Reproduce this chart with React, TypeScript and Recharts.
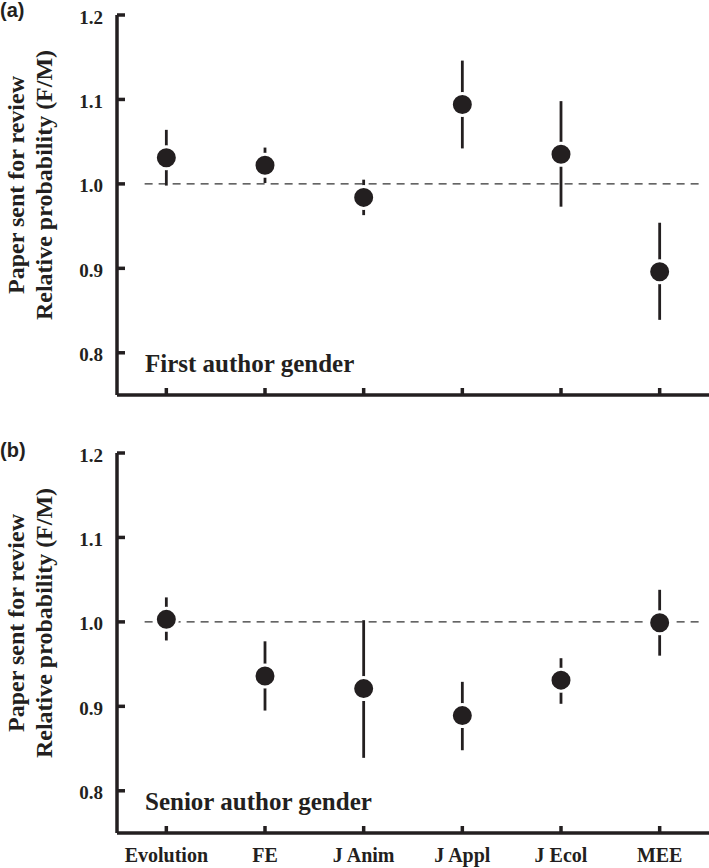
import { ScatterChart, Scatter, XAxis, YAxis, ErrorBar, ReferenceLine } from 'recharts';

// journals on the x axis
const journals = ['Evolution', 'FE', 'J Anim', 'J Appl', 'J Ecol', 'MEE'];

// (a) first author gender: estimate and interval bounds
const firstMean = [1.031, 1.022, 0.984, 1.094, 1.035, 0.896];
const firstLow = [0.998, 1.001, 0.963, 1.042, 0.973, 0.839];
const firstHigh = [1.064, 1.043, 1.005, 1.146, 1.098, 0.954];

// (b) senior author gender
const seniorMean = [1.003, 0.936, 0.921, 0.889, 0.931, 0.999];
const seniorLow = [0.978, 0.895, 0.839, 0.848, 0.903, 0.96];
const seniorHigh = [1.029, 0.977, 1.002, 0.929, 0.957, 1.038];

const yTicks = [0.8, 0.9, 1.0, 1.1, 1.2];

const ink = '#231f20';
const serif = '"Liberation Serif", "Times New Roman", serif';
const sans = '"Liberation Sans", Arial, sans-serif';

const toRows = (mean: number[], low: number[], high: number[]) =>
  mean.map((m, i) => ({
    x: i + 1,
    y: m,
    err: [m - low[i], high[i] - m],
  }));

const YTick = (props: any) => {
  const { x, y, payload } = props;
  return (
    <g>
      <line x1={x} x2={x + 8} y1={y} y2={y} stroke={ink} strokeWidth={3.5} />
      <text
        x={x - 14}
        y={y + 2}
        textAnchor="end"
        dominantBaseline="central"
        fill={ink}
        fontFamily={serif}
        fontWeight="bold"
        fontSize={19}
      >
        {payload.value.toFixed(1)}
      </text>
    </g>
  );
};

const makeXTick = (showLabels: boolean) => (props: any) => {
  const { x, y, payload } = props;
  return (
    <g>
      <line x1={x} x2={x} y1={y} y2={y - 7} stroke={ink} strokeWidth={3.5} />
      {showLabels && (
        <text
          x={x}
          y={y + 29}
          textAnchor="middle"
          fill={ink}
          fontFamily={serif}
          fontWeight="bold"
          fontSize={20}
        >
          {journals[payload.value - 1]}
        </text>
      )}
    </g>
  );
};

const Dot = (props: any) => {
  const { cx, cy } = props;
  return <circle cx={cx} cy={cy} r={11} fill={ink} stroke="#fff" strokeWidth={3} />;
};

const Panel = ({ rows, height, xAxisHeight, showLabels }: any) => (
  <ScatterChart width={709} height={height} margin={{ top: 15, right: 0, left: 0, bottom: 0 }}>
    <XAxis
      type="number"
      dataKey="x"
      domain={[0.5, 6.5]}
      ticks={[1, 2, 3, 4, 5, 6]}
      height={xAxisHeight}
      tickSize={0}
      tickMargin={0}
      tickLine={false}
      axisLine={{ stroke: ink, strokeWidth: 3.5 }}
      tick={makeXTick(showLabels)}
      interval={0}
    />
    <YAxis
      type="number"
      dataKey="y"
      domain={[0.75, 1.2]}
      ticks={yTicks}
      width={117}
      tickSize={0}
      tickMargin={0}
      tickLine={false}
      axisLine={{ stroke: ink, strokeWidth: 3.5 }}
      tick={YTick}
      allowDataOverflow
    />
    <ReferenceLine
      segment={[{ x: 0.78, y: 1 }, { x: 6.42, y: 1 }]}
      stroke="#333"
      strokeWidth={1.4}
      strokeDasharray="8 6"
    />
    <Scatter data={rows} shape={Dot} isAnimationActive={false}>
      <ErrorBar dataKey="err" direction="y" width={0} stroke={ink} strokeWidth={2.8} isAnimationActive={false} />
    </Scatter>
  </ScatterChart>
);

const YTitle = ({ cy }: { cy: number }) => (
  <g fontFamily={serif} fontWeight="bold" fontSize={24} fill={ink} textAnchor="middle">
    <text transform={`translate(24, ${cy}) rotate(-90)`}>Paper sent for review</text>
    <text transform={`translate(52, ${cy}) rotate(-90)`}>Relative probability (F/M)</text>
  </g>
);

export default function App() {
  const first = toRows(firstMean, firstLow, firstHigh);
  const senior = toRows(seniorMean, seniorLow, seniorHigh);
  return (
    <div style={{ position: 'absolute', left: 0, top: 0, width: 709, height: 868, background: '#fff' }}>
      <div style={{ position: 'absolute', left: 0, top: 0 }}>
        <Panel rows={first} height={434} xAxisHeight={39} showLabels={false} />
      </div>
      <div style={{ position: 'absolute', left: 0, top: 438 }}>
        <Panel rows={senior} height={430} xAxisHeight={35} showLabels={true} />
      </div>
      <svg
        width={709}
        height={868}
        style={{ position: 'absolute', left: 0, top: 0, pointerEvents: 'none' }}
      >
        <text x={0} y={17} fontFamily={sans} fontWeight="bold" fontSize={20} fill={ink}>
          (a)
        </text>
        <text x={0} y={457} fontFamily={sans} fontWeight="bold" fontSize={20} fill={ink}>
          (b)
        </text>
        <YTitle cy={185} />
        <YTitle cy={623} />
        <text x={145} y={372} fontFamily={serif} fontWeight="bold" fontSize={25} fill={ink}>
          First author gender
        </text>
        <text x={145} y={810} fontFamily={serif} fontWeight="bold" fontSize={25} fill={ink}>
          Senior author gender
        </text>
      </svg>
    </div>
  );
}
